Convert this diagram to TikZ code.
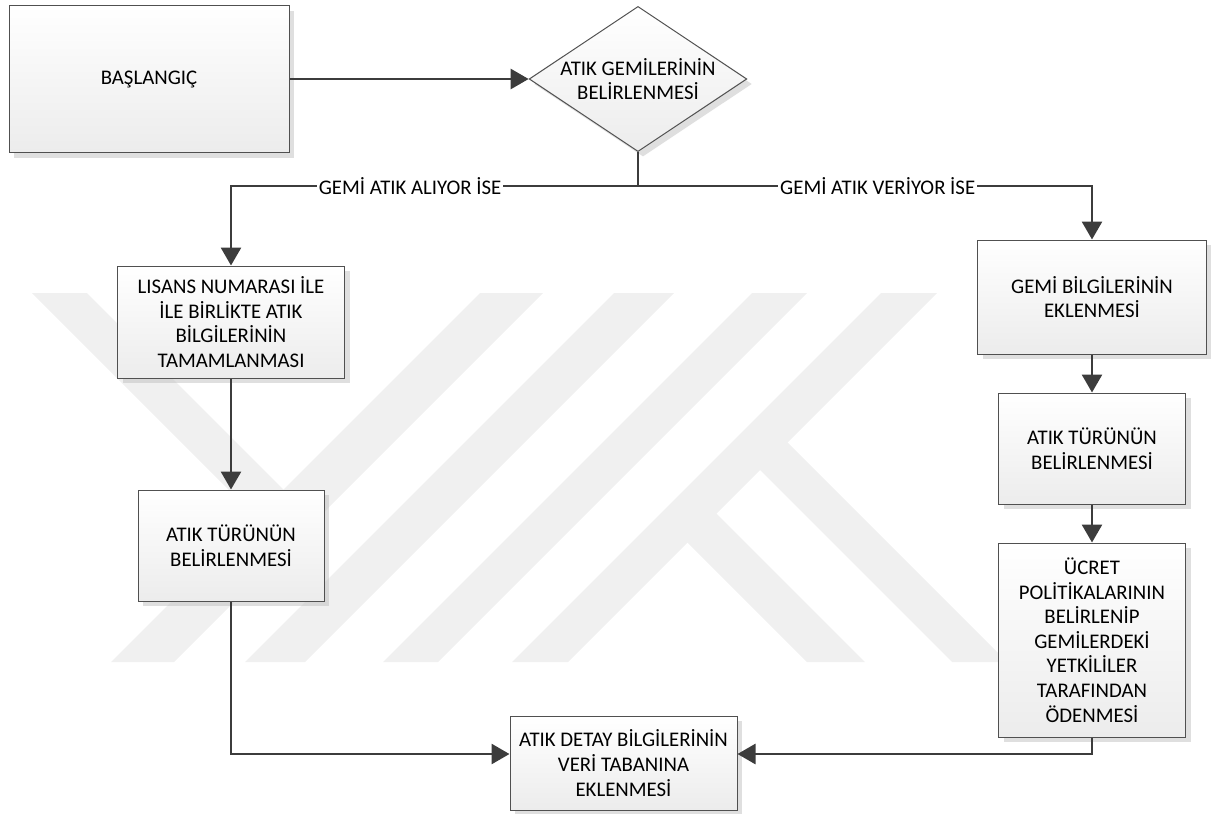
\documentclass[tikz,border=0pt]{standalone}
\usepackage{fontspec}
\setmainfont{Carlito}
\usetikzlibrary{positioning, calc}
\usetikzlibrary{shapes.geometric, arrows.meta, shadows}

\definecolor{linegray}{RGB}{60,60,60}
\definecolor{boxline}{RGB}{80,80,80}
\definecolor{boxfill}{RGB}{236,236,236}
\definecolor{wmgray}{RGB}{240,240,240}

\tikzset{
  box/.style={rectangle, draw=boxline, line width=0.5pt,
    top color=white, bottom color=boxfill,
    drop shadow={shadow xshift=2.5pt, shadow yshift=-2.5pt, fill=black!25, opacity=0.5},
    align=center, inner sep=2pt, font=\fontsize{10.4}{12.3}\selectfont},
  decision/.style={box, diamond, shape aspect=1.5, inner sep=0pt},
  flow/.style={draw=linegray, line width=1.4pt, -{Triangle[length=9pt, width=10pt]}},
  line/.style={draw=linegray, line width=1.4pt},
  lbl/.style={fill=white, inner sep=1pt, font=\fontsize{10.4}{12.3}\selectfont}
}

\begin{document}
\begin{tikzpicture}[x=0.5pt, y=-0.5pt]

  % page frame
  \useasboundingbox (0,0) rectangle (1211,814);

  % watermark
  \fill[wmgray] (32,293) -- (87,293) -- (299,505) -- (271.5,532.5) -- cycle;
  \foreach \a/\b in {111/174, 245/305, 383/438, 512/568}
    \fill[wmgray] (\a,662) -- (\b,662) -- ({\b+369},293) -- ({\a+369},293) -- cycle;
  \fill[wmgray] (673.5,528.5) -- (702.5,499.5) -- (865,662) -- (807,662) -- cycle;
  \fill[wmgray] (746,456) -- (773.5,428.5) -- (1007,662) -- (952,662) -- cycle;

  % steps
  \node[box, minimum width=140pt, minimum height=73.5pt] (start) at (149,79) {BAŞLANGIÇ};
  \node[decision] (decide) at (638,79) {ATIK GEMİLERİNİN\\BELİRLENMESİ};

  \node[box, minimum width=113.5pt, minimum height=56pt] (lisans) at (231,322)
    {LISANS NUMARASI İLE\\İLE BİRLİKTE ATIK\\BİLGİLERİNİN\\TAMAMLANMASI};
  \node[box, minimum width=93pt, minimum height=55.5pt] (turL) at (231,545.5)
    {ATIK TÜRÜNÜN\\BELİRLENMESİ};

  \node[box, minimum width=114.5pt, minimum height=57pt] (gemi) at (1092,297)
    {GEMİ BİLGİLERİNİN\\EKLENMESİ};
  \node[box, minimum width=93.5pt, minimum height=55.5pt] (turR) at (1092,448.5)
    {ATIK TÜRÜNÜN\\BELİRLENMESİ};
  \node[box, minimum width=93.5pt, minimum height=97pt] (ucret) at (1092,640)
    {ÜCRET\\POLİTİKALARININ\\BELİRLENİP\\GEMİLERDEKİ\\YETKİLİLER\\TARAFINDAN\\ÖDENMESİ};

  \node[box, minimum width=113.5pt, minimum height=47pt] (detay) at (623.5,763)
    {ATIK DETAY BİLGİLERİNİN\\VERİ TABANINA\\EKLENMESİ};

  % connectors
  \coordinate (split) at (638,186);

  \draw[flow] (start) -- (decide);
  \draw[line] (decide.south) -- (split);
  \draw[flow] (split) -| node[lbl, pos=0.28] {GEMİ ATIK ALIYOR İSE} (lisans.north);
  \draw[flow] (split) -| node[lbl, pos=0.264] {GEMİ ATIK VERİYOR İSE} (gemi.north);

  \draw[flow] (lisans) -- (turL);
  \draw[flow] (turL.south) |- ([yshift=4.5pt]detay.west);

  \draw[flow] (gemi) -- (turR);
  \draw[flow] (turR) -- (ucret);
  \draw[flow] (ucret.south) |- ([yshift=4.5pt]detay.east);

\end{tikzpicture}
\end{document}
